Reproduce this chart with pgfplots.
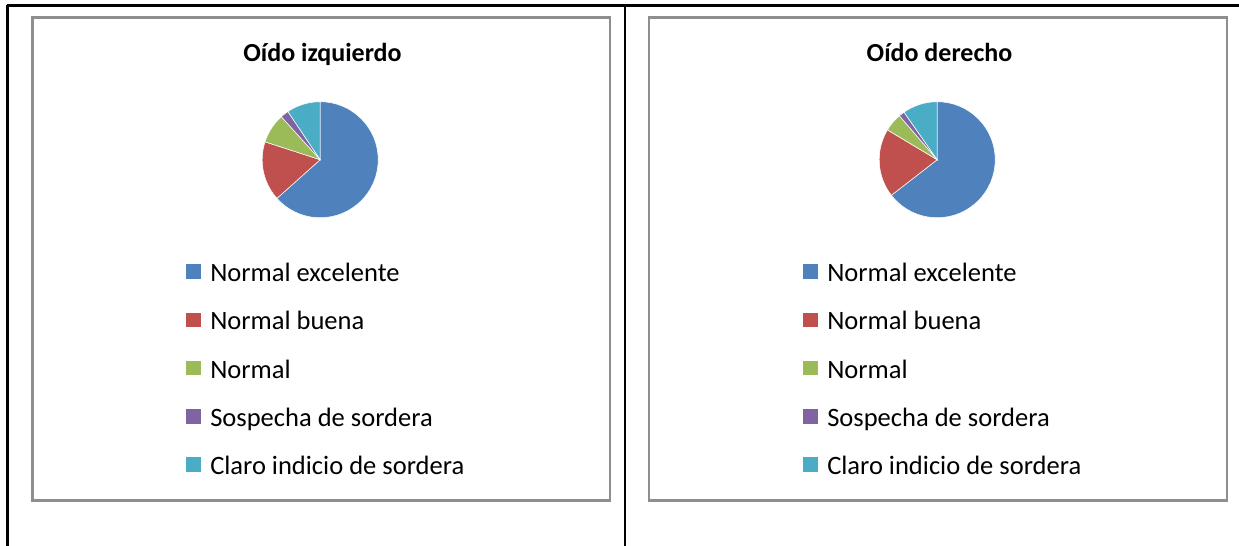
\documentclass[border=0pt]{standalone}
\usepackage{fontspec}
\setmainfont{Carlito}
\usepackage{pgfplots}
\pgfplotsset{compat=1.18}
\usepackage{pgfplotstable}

\definecolor{cA}{HTML}{4F81BD}
\definecolor{cB}{HTML}{C0504D}
\definecolor{cC}{HTML}{9BBB59}
\definecolor{cD}{HTML}{8064A2}
\definecolor{cE}{HTML}{4BACC6}
\definecolor{boxgray}{HTML}{8E8E8E}
\colorlet{pie0}{cA}
\colorlet{pie1}{cB}
\colorlet{pie2}{cC}
\colorlet{pie3}{cD}
\colorlet{pie4}{cE}

% share of each category (%)
\pgfplotstableread{
cat value
1 63.4
2 16.6
3 8.3
4 2.3
5 9.4
}\izquierdo
\pgfplotstableread{
cat value
1 64.5
2 19.1
3 5.1
4 1.6
5 9.7
}\derecho

% slices clockwise from 12 o'clock
\newcommand\drawpie[1]{%
  \def\cum{90}%
  \pgfplotsforeachungrouped \i in {0,...,4}{%
    \pgfplotstablegetelem{\i}{value}\of{#1}%
    \pgfmathsetmacro\nxt{\cum-3.6*\pgfplotsretval}%
    \edef\tmp{\noexpand\fill[pie\i, draw=white, line width=0.4pt] (axis cs:0,0) -- (axis cs:{cos(\cum)},{sin(\cum)}) arc[start angle=\cum, end angle=\nxt, radius=1] -- cycle;}%
    \tmp
    \global\let\cum\nxt
  }%
}

\newcommand\pielegend[1]{% #1 = x offset in px
  \foreach \lab [count=\k from 0] in {Normal excelente,Normal buena,Normal,Sospecha de sordera,Claro indicio de sordera}{
    \pgfmathsetmacro\yc{546-(271.5+48.3*\k)}
    \fill[pie\k] ({186+#1},{\yc-7.2}) rectangle ++(15,14.4);
    \node[anchor=base west, inner sep=0pt, font=\fontsize{19.9}{23}\selectfont] at ({210+#1},{\yc-10}) {\lab};
  }
}

\begin{document}
\begin{tikzpicture}[x=0.75pt,y=0.75pt]
\useasboundingbox (0,0) rectangle (1239,546);
% table rules
\draw[black, line width=1.9pt] (6.5,540.5) -- (1239,540.5);
\draw[black, line width=1.9pt] (7.5,541.4) -- (7.5,0);
\draw[black, line width=1.9pt] (625,541.4) -- (625,0);
% chart frames
\draw[boxgray, line width=1.6pt] (32.5,528.5) rectangle (610,45.5);
\draw[boxgray, line width=1.6pt] (649,528.5) rectangle (1227,45.5);

\node[anchor=base, inner sep=0pt, font=\bfseries\fontsize{19.5}{23}\selectfont] at (322.5,484) {Oído izquierdo};
\node[anchor=base, inner sep=0pt, font=\bfseries\fontsize{19.5}{23}\selectfont] at (939.5,484) {Oído derecho};

\begin{axis}[at={(240.15pt,289.7pt)}, anchor=center, scale only axis,
  width=87pt, height=87pt, hide axis,
  xmin=-1, xmax=1, ymin=-1, ymax=1]
\drawpie{\izquierdo}
\end{axis}

\begin{axis}[at={(702.9pt,289.7pt)}, anchor=center, scale only axis,
  width=87pt, height=87pt, hide axis,
  xmin=-1, xmax=1, ymin=-1, ymax=1]
\drawpie{\derecho}
\end{axis}

\pielegend{0}
\pielegend{617}
\end{tikzpicture}
\end{document}
